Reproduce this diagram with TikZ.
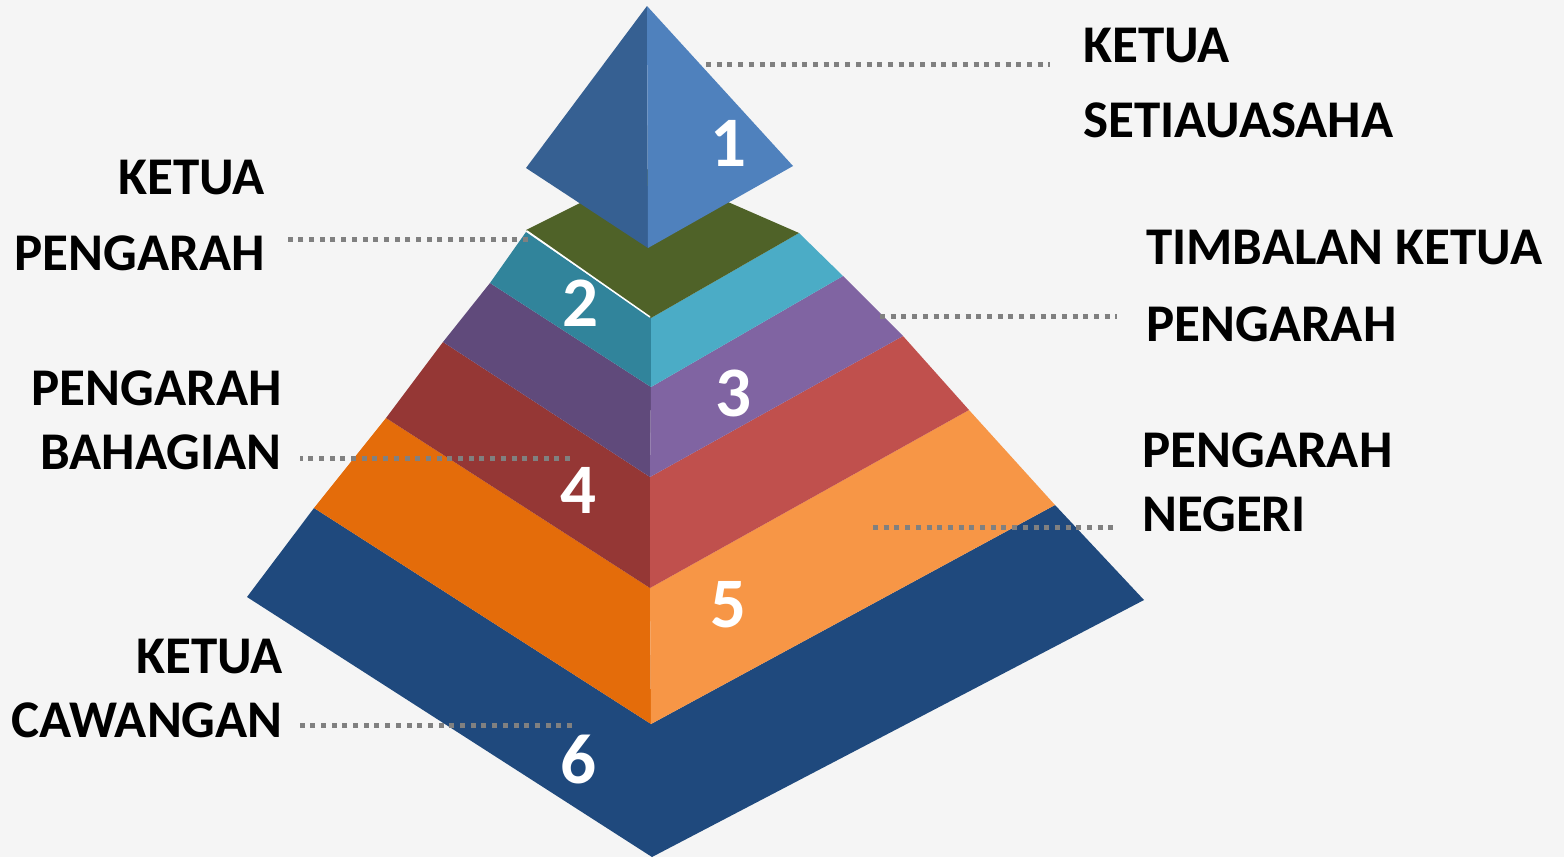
\documentclass[tikz,border=0pt]{standalone}
\usepackage{fontspec}
\setmainfont{Carlito}

\definecolor{bgcol}{HTML}{F5F5F5}
\definecolor{leadgrey}{HTML}{808080}
\definecolor{topL}{HTML}{366092}
\definecolor{topR}{HTML}{4F81BD}
\definecolor{olive}{HTML}{4F6228}
\definecolor{tealL}{HTML}{31849B}
\definecolor{tealR}{HTML}{4BACC6}
\definecolor{purpL}{HTML}{604A7B}
\definecolor{purpR}{HTML}{8064A2}
\definecolor{redL}{HTML}{953735}
\definecolor{redR}{HTML}{C0504D}
\definecolor{orgL}{HTML}{E46C0A}
\definecolor{orgR}{HTML}{F79646}
\definecolor{navy}{HTML}{1F497D}

\tikzset{every picture/.style={line width=0.5pt}}
\tikzset{
  lbl/.style={font=\bfseries\fontsize{53}{60}\selectfont, text=black, inner sep=0pt},
  num/.style={font=\bfseries\fontsize{71}{80}\selectfont, text=white, inner sep=0pt},
  leader/.style={draw=leadgrey, line width=5pt, dash pattern=on 5pt off 5.7pt},
}

\begin{document}
\begin{tikzpicture}[x=1pt,y=1pt,yscale=-1,xscale=1]
%set diagram to the size of the slide
\fill[bgcol] (0,0) rectangle (1564,857);
\useasboundingbox (0,0) rectangle (1564,857);

%Shape: Layer 6 [one colour, both faces]
\fill[navy] (314,508) -- (247,597) -- (652,857) -- (1144,600) -- (1055,505) -- (651,724) -- cycle ;
%Shape: Layer 5
\fill[orgL] (386,418) -- (314,508) -- (651,724) -- (650,588) -- cycle ;
\fill[orgR] (969,410) -- (1055,505) -- (651,724) -- (650,588) -- cycle ;
%Shape: Layer 4
\fill[redL] (443,342) -- (386,418) -- (650,588) -- (650,477) -- cycle ;
\fill[redR] (903,336) -- (969,410) -- (650,588) -- (650,477) -- cycle ;
%Shape: Layer 3
\fill[purpL] (490,283) -- (443,342) -- (650,477) -- (651,387) -- cycle ;
\fill[purpR] (843,276) -- (903,336) -- (650,477) -- (651,387) -- cycle ;
%Shape: Layer 2
\fill[tealL] (526,232) -- (490,283) -- (651,387) -- (651,318) -- cycle ;
\fill[tealR] (799,233) -- (843,276) -- (651,387) -- (651,318) -- cycle ;
%Shape: Top of layer 2
\fill[olive] (526,230) -- (650,168) -- (799,233) -- (651,318) -- cycle ;
\draw[white, line width=1.5pt] (527,231) -- (650,317) ;
%Shape: Layer 1 [pyramid top]
\fill[topL] (647,6) -- (526,168) -- (648,248) -- cycle ;
\fill[topR] (647,6) -- (793,166) -- (648,248) -- cycle ;

% Number Nodes
\node[num] (n1) at (728,143) {1};
\node[num] (n2) at (580,303) {2};
\node[num] (n3) at (733,393) {3};
\node[num] (n4) at (578,490) {4};
\node[num] (n5) at (728,605) {5};
\node[num] (n6) at (578,760) {6};

% Text Nodes
\node[lbl, anchor=base west] (ketua) at (1083,62) {KETUA};
\node[lbl, anchor=base west] (setia) at (1083,137) {SETIAUASAHA};
\node[lbl, anchor=base east] (kpA) at (265,194) {KETUA};
\node[lbl, anchor=base east] (kpB) at (265,270) {PENGARAH};
\node[lbl, anchor=base west] (tkA) at (1146,264) {TIMBALAN KETUA};
\node[lbl, anchor=base west] (tkB) at (1146,341) {PENGARAH};
\node[lbl, anchor=base east] (pbA) at (282,405) {PENGARAH};
\node[lbl, anchor=base east] (pbB) at (282,469) {BAHAGIAN};
\node[lbl, anchor=base west] (pnA) at (1142,467) {PENGARAH};
\node[lbl, anchor=base west] (pnB) at (1142,531) {NEGERI};
\node[lbl, anchor=base east] (kcA) at (283,673) {KETUA};
\node[lbl, anchor=base east] (kcB) at (283,737) {CAWANGAN};

% Leader ends
\coordinate (d1a) at (706,64);  \coordinate (d1b) at (1050,64);
\coordinate (d2a) at (528,239); \coordinate (d2b) at (282,239);
\coordinate (d3a) at (880,316); \coordinate (d3b) at (1117,316);
\coordinate (d4a) at (570,458); \coordinate (d4b) at (300,458);
\coordinate (d5a) at (873,527); \coordinate (d5b) at (1113,527);
\coordinate (d6a) at (572,725); \coordinate (d6b) at (300,725);

%Dotted Lines
\draw[leader] (d1a) -- (d1b) ;
\draw[leader] (d2a) -- (d2b) ;
\draw[leader] (d3a) -- (d3b) ;
\draw[leader] (d4a) -- (d4b) ;
\draw[leader] (d5a) -- (d5b) ;
\draw[leader] (d6a) -- (d6b) ;

\end{tikzpicture}
\end{document}
